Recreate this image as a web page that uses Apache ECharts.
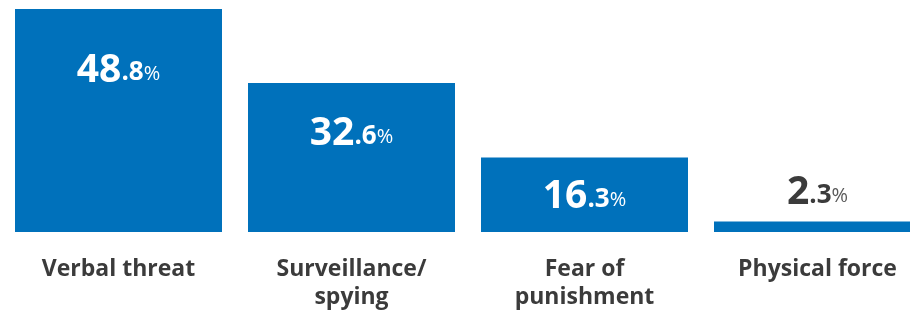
<!DOCTYPE html>
<html>
<head>
<meta charset="utf-8">
<script src="https://cdn.jsdelivr.net/npm/echarts@6/dist/echarts.min.js"></script>
<style>
  html, body { margin: 0; padding: 0; background: #fff; overflow: hidden; width: 910px; height: 315px; }
  #chart { width: 934px; height: 315px; }
</style>
</head>
<body>
<div id="chart"></div>
<script>
const categories = ['Verbal threat', 'Surveillance/\nspying', 'Fear of\npunishment', 'Physical force'];
const values = [48.8, 32.6, 16.3, 2.3];

const BLUE = '#0071BB';
const DARK = '#3b3b3b';
const FONT = '"Open Sans", sans-serif';

function richFor(color, pctColor) {
  return {
    a: { fontFamily: FONT, fontWeight: 700, fontSize: 39, color: color, verticalAlign: 'bottom' },
    b: { fontFamily: FONT, fontWeight: 700, fontSize: 26, color: color, verticalAlign: 'bottom', padding: [0, 0, 4, 0] },
    c: { fontFamily: FONT, fontWeight: 400, fontSize: 20, color: pctColor, verticalAlign: 'bottom', padding: [0, 0, 6, 0] }
  };
}

function fmt(v) {
  const s = v.toFixed(1);
  const i = s.indexOf('.');
  return '{a|' + s.slice(0, i) + '}{b|' + s.slice(i) + '}{c|%}';
}

const seriesData = values.map(function (v) {
  const outside = v < 5;
  return {
    value: v,
    label: outside ? {
      show: true, position: 'top', distance: 9,
      formatter: function (p) { return fmt(p.value); },
      rich: richFor(DARK, '#5a5a5a')
    } : {
      show: true, position: 'insideTop', distance: 9 + 0.677 * v,
      formatter: function (p) { return fmt(p.value); },
      rich: richFor('#ffffff', '#ffffff')
    }
  };
});

const chart = echarts.init(document.getElementById('chart'), null, { renderer: 'canvas' });
chart.setOption({
  animation: false,
  grid: { left: 2, top: 9, right: 0, height: 223, containLabel: false },
  xAxis: {
    type: 'category',
    data: categories,
    axisLine: { show: false },
    axisTick: { show: false },
    axisLabel: {
      margin: 23,
      interval: 0,
      fontFamily: FONT,
      fontWeight: 700,
      fontSize: 23,
      lineHeight: 28,
      color: DARK
    }
  },
  yAxis: {
    type: 'value', min: 0, max: Math.max.apply(null, values),
    show: false, splitLine: { show: false }
  },
  series: [{
    type: 'bar',
    data: seriesData,
    barWidth: 207,
    itemStyle: { color: BLUE }
  }]
});
</script>
</body>
</html>
